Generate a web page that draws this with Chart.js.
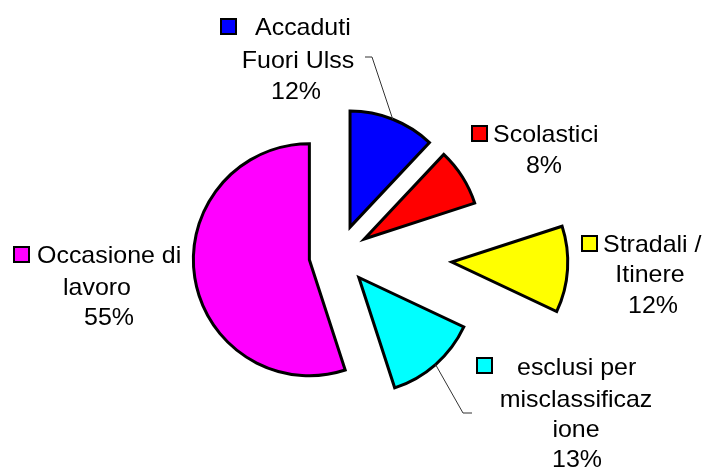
<!DOCTYPE html>
<html>
<head>
<meta charset="utf-8">
<script src="https://cdn.jsdelivr.net/npm/chart.js@4.4.1/dist/chart.umd.min.js"></script>
<style>
  html, body { margin: 0; padding: 0; background: #ffffff; }
  #wrap { width: 705px; height: 472px; position: relative; }
</style>
</head>
<body>
<div id="wrap"><canvas id="c" width="705" height="472"></canvas></div>
<script>
// ---- data ----
const categories = [
  ["Accaduti", "Fuori Ulss"],
  ["Scolastici"],
  ["Stradali /", "Itinere"],
  ["esclusi per", "misclassificaz", "ione"],
  ["Occasione di", "lavoro"]
];
const values = [12, 8, 12, 13, 55];
const colors = ["#0000FF", "#FF0000", "#FFFF00", "#00FFFF", "#FF00FF"];

// ---- styling / layout (not data) ----
const explode = [30, 30, 113, 30, 30];
const FONT = "24px 'Liberation Sans', Arial, sans-serif";
// per label: legend box (x,y) and each line [x, baseline, align]
const labelLayout = [
  { box: [221, 19], lines: [[255, 35, "left"], [298, 68, "center"], [296, 99, "center"]],
    leader: { from: [[365, 57], [372, 57]] } },
  { box: [472, 126], lines: [[493, 142, "left"], [544, 173, "center"]] },
  { box: [582, 236], lines: [[603, 252, "left"], [650, 282, "center"], [653, 313, "center"]] },
  { box: [477, 358], lines: [[517, 375, "left"], [576, 407, "center"], [576, 437, "center"], [577, 467, "center"]],
    leader: { to: [[463, 413], [472, 413]] } },
  { box: [14, 247], lines: [[37, 263, "left"], [97, 295, "center"], [109, 325, "center"]] }
];

const explodePlugin = {
  id: "explode",
  beforeDatasetDraw(chart, args) {
    const ctx = chart.ctx;
    args.meta.data.forEach((arc, i) => {
      const mid = (arc.startAngle + arc.endAngle) / 2;
      const d = explode[i];
      ctx.save();
      ctx.translate(Math.cos(mid) * d, Math.sin(mid) * d);
      arc.draw(ctx, chart.chartArea);
      ctx.restore();
    });
    return false;
  }
};

const labelPlugin = {
  id: "pieLabels",
  afterDraw(chart) {
    const ctx = chart.ctx;
    const meta = chart.getDatasetMeta(0);
    ctx.save();
    ctx.font = FONT;
    ctx.fillStyle = "#000";
    ctx.textBaseline = "alphabetic";
    meta.data.forEach((arc, i) => {
      const L = labelLayout[i];
      // legend key box
      ctx.fillStyle = colors[i];
      ctx.fillRect(L.box[0], L.box[1], 15, 15);
      ctx.lineWidth = 2;
      ctx.strokeStyle = "#000";
      ctx.strokeRect(L.box[0], L.box[1], 15, 15);
      // text lines
      const texts = categories[i].concat([values[i] + "%"]);
      ctx.fillStyle = "#000";
      texts.forEach((t, k) => {
        const p = L.lines[k];
        ctx.textAlign = p[2];
        ctx.save();
        ctx.translate(p[0], p[1]);
        ctx.scale(1.04, 1);
        ctx.fillText(t, 0, 0);
        ctx.restore();
      });
      // leader lines
      if (L.leader) {
        const mid = (arc.startAngle + arc.endAngle) / 2;
        const rr = explode[i] + arc.outerRadius;
        const ex = arc.x + Math.cos(mid) * rr;
        const ey = arc.y + Math.sin(mid) * rr;
        ctx.beginPath();
        ctx.lineWidth = 1;
        ctx.strokeStyle = "#333";
        if (L.leader.from) {
          ctx.moveTo(L.leader.from[0][0], L.leader.from[0][1]);
          ctx.lineTo(L.leader.from[1][0], L.leader.from[1][1]);
          ctx.lineTo(ex, ey);
        } else {
          ctx.moveTo(ex, ey);
          ctx.lineTo(L.leader.to[0][0], L.leader.to[0][1]);
          ctx.lineTo(L.leader.to[1][0], L.leader.to[1][1]);
        }
        ctx.stroke();
      }
    });
    ctx.restore();
  }
};

new Chart(document.getElementById("c"), {
  type: "pie",
  data: {
    labels: categories.map(c => c.join(" ")),
    datasets: [{
      data: values,
      backgroundColor: colors,
      borderColor: "#000000",
      borderWidth: 3,
      hoverBorderWidth: 3,
      borderJoinStyle: "miter",
      offset: 0
    }]
  },
  options: {
    responsive: false,
    animation: false,
    devicePixelRatio: 1,
    layout: { padding: { left: 221.5, top: 137.5, right: 248.5, bottom: 99.5 } },
    plugins: {
      legend: { display: false },
      tooltip: { enabled: false }
    },
    events: []
  },
  plugins: [explodePlugin, labelPlugin]
});
</script>
</body>
</html>
